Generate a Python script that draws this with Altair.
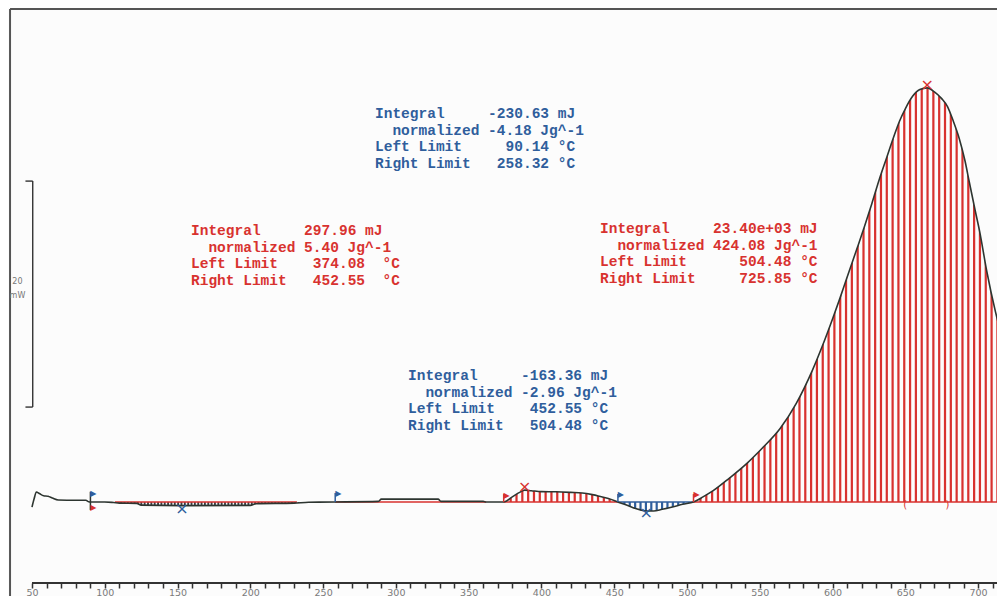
import altair as alt
import pandas as pd

# ---------------- data ----------------
temps = [50, 51.5, 53, 55, 58, 61, 64, 68, 80, 87, 89, 90.14,
         100, 106, 110, 122, 125, 153, 200, 204, 230, 240, 258.32,
         288, 290, 329, 331, 360, 362, 374.08,
         380, 385, 388.5, 393, 400, 410, 420, 428, 435, 440, 446, 452.55,
         458, 463, 468, 472, 477, 483, 490, 497, 504.48,
         511, 518, 529, 541, 552, 564, 575, 586, 593, 600, 605, 610, 617,
         622, 627, 632, 637, 642, 646, 650, 655, 660, 665, 670, 675, 679,
         683, 687, 691, 694, 698, 701, 706, 712, 718]
heat_mw = [-0.45, 0.3, 0.88, 0.75, 0.55, 0.5, 0.35, 0.18, 0.15, 0.15, 0.02, 0.0,
           0.0, -0.05, -0.1, -0.12, -0.28, -0.32, -0.3, -0.15, -0.1, -0.02, 0.0,
           0.05, 0.25, 0.25, 0.05, 0.05, 0.0, 0.0,
           0.45, 0.85, 1.05, 1.0, 0.92, 0.9, 0.85, 0.8, 0.65, 0.5, 0.3, 0.0,
           -0.25, -0.5, -0.7, -0.8, -0.8, -0.65, -0.45, -0.2, 0.0,
           0.45, 1.0, 2.1, 3.4, 4.8, 6.5, 8.7, 11.6, 13.8, 16.2, 18.0, 19.9, 22.5,
           24.4, 26.4, 28.5, 30.4, 32.3, 33.7, 34.8, 35.9, 36.5, 36.65, 36.3, 35.7, 35.0,
           33.7, 32.2, 30.2, 28.3, 25.8, 24.0, 20.4, 16.8, 13.9]

# integration regions: left / right limit (°C)
region_lo = [90.14, 374.08, 452.55, 504.48]
region_hi = [258.32, 452.55, 504.48, 725.85]

# baselines of the integrals
base_lo = [107, 258.32, 374.08, 452.55, 504.48]
base_hi = [232, 362, 452.55, 504.48, 725.85]
base_kind = ["red", "red", "red", "blue", "red"]

# limit flags
stem_t = [90.14, 258.32, 374.08, 452.55, 504.48]
stem_lo = [-0.7, 0.0, 0.0, 0.0, 0.0]
stem_hi = [0.9, 0.8, 0.7, 0.7, 0.7]
stem_kind = ["dark", "blue", "red", "blue", "red"]
flag_t = [90.14, 90.14, 258.32, 374.08, 452.55, 504.48]
flag_mw = [0.75, -0.5, 0.7, 0.55, 0.6, 0.6]
flag_kind = ["blue", "red", "blue", "red", "blue", "red"]

# peak / minimum markers
ext_t = [153, 388.5, 472, 665]
ext_mw = [-0.6, 1.3, -0.95, 36.9]
ext_kind = ["blue", "red", "blue", "red"]

# small bracket marks under the big peak
brk_t = [650, 679]
brk_txt = ["(", ")"]

# 20 mW scale bar
bar_t = 50.5
bar_lo = 8.4
bar_hi = 28.4

tick_values = list(range(50, 711, 10))
axis_span = [50, 713]

blue_1 = ["Integral     -230.63 mJ",
          "  normalized -4.18 Jg^-1",
          "Left Limit     90.14 °C",
          "Right Limit   258.32 °C"]
red_1 = ["Integral     297.96 mJ",
         "  normalized 5.40 Jg^-1",
         "Left Limit    374.08  °C",
         "Right Limit   452.55  °C"]
red_2 = ["Integral     23.40e+03 mJ",
         "  normalized 424.08 Jg^-1",
         "Left Limit      504.48 °C",
         "Right Limit     725.85 °C"]
blue_2 = ["Integral     -163.36 mJ",
          "  normalized -2.96 Jg^-1",
          "Left Limit    452.55 °C",
          "Right Limit   504.48 °C"]

# ---------------- styles ----------------
BLUE = "#2f5e9c"
RED = "#d8322f"
DARK = "#2d3530"
BG = "#fcfcfc"
colors = {"blue": BLUE, "red": RED, "dark": DARK}

W, H = 989, 575
XD = [33.51, 713.0]
YD = [-7.17, 43.72]
xs = alt.Scale(domain=XD, nice=False, zero=False)
ys = alt.Scale(domain=YD, nice=False, zero=False)
x_axis = alt.Axis(values=tick_values, title=None, grid=False, domain=False,
                  labelExpr="datum.value % 50 == 0 ? datum.label : ''",
                  format="d", tickSize=5, tickWidth=1.5, tickColor="#333",
                  labelColor="#7a7a7a", labelFont="DejaVu Sans", labelFontSize=9.5,
                  labelPadding=-1, labelOverlap=False, labelFlush=False)


def X(f="T"):
    return alt.X(f"{f}:Q", scale=xs, axis=x_axis)


def Y(f):
    return alt.Y(f"{f}:Q", scale=ys, axis=None)


curve = pd.DataFrame({"T": temps, "mW": heat_mw, "zero": 0.0})

# hatch style per region: fill colour, stripe step (°C), gap width (px), gap extent (mW)
hatch = [("#3a3f45", 2.3, 1.5, -0.6, 0.15),
         (RED, 4.0, 3.6, -0.1, 1.4),
         (BLUE, 3.7, 3.2, -1.2, 0.1),
         (RED, 4.0, 3.6, -0.1, 38.5)]

layers = []
for lo, hi, (col, step, gap, g0, g1) in zip(region_lo, region_hi, hatch):
    layers.append(
        alt.Chart(curve)
        .transform_filter((alt.datum.T >= lo) & (alt.datum.T <= hi))
        .mark_area(color=col, opacity=1, interpolate="monotone", clip=True)
        .encode(x=X(), y=Y("mW"), y2="zero:Q")
    )
for lo, hi, (col, step, gap, g0, g1) in zip(region_lo, region_hi, hatch):
    layers.append(
        alt.Chart(alt.sequence(lo + step * 0.7, hi, step, as_="T"))
        .transform_calculate(g0=str(g0), g1=str(g1))
        .mark_rule(color=BG, strokeWidth=gap, clip=True)
        .encode(x=X(), y=Y("g0"), y2="g1:Q")
    )

base_df = pd.DataFrame({"T": base_lo, "T2": base_hi, "zero": 0.0,
                        "c": [colors[k] for k in base_kind]})
layers.append(
    alt.Chart(base_df).mark_rule(strokeWidth=1.6, clip=True).encode(
        x=X(), x2="T2:Q", y=Y("zero"), color=alt.Color("c:N", scale=None))
)

layers.append(
    alt.Chart(curve).mark_line(color=DARK, strokeWidth=1.6, interpolate="monotone", clip=True)
    .encode(x=X(), y=Y("mW"))
)

# axis line from 50 °C onwards, frame lines
frame_df = pd.DataFrame({"T": [axis_span[0]], "T2": [axis_span[1]], "ybot": [YD[0]],
                         "xl": [XD[0] + 1.4], "ytop": [YD[1] - 0.09], "yfar": [YD[0] - 1.2]})
layers.append(
    alt.Chart(frame_df).mark_rule(color="#333", strokeWidth=2).encode(
        x=X(), x2="T2:Q", y=Y("ybot"))
)
layers.append(
    alt.Chart(frame_df).mark_rule(color="#555", strokeWidth=2).encode(
        x=X("xl"), y=Y("yfar"), y2="ytop:Q")
)
layers.append(
    alt.Chart(frame_df).mark_rule(color="#555", strokeWidth=2).encode(
        x=X("xl"), x2="T2:Q", y=Y("ytop"))
)

stem_df = pd.DataFrame({"T": stem_t, "lo": stem_lo, "hi": stem_hi,
                        "c": [colors[k] for k in stem_kind]})
layers.append(
    alt.Chart(stem_df).mark_rule(strokeWidth=1.5).encode(
        x=X(), y=Y("lo"), y2="hi:Q", color=alt.Color("c:N", scale=None))
)
flag_df = pd.DataFrame({"T": flag_t, "mW": flag_mw, "c": [colors[k] for k in flag_kind]})
layers.append(
    alt.Chart(flag_df).mark_text(text="▶", fontSize=8, font="DejaVu Sans", dx=3, baseline="middle")
    .encode(x=X(), y=Y("mW"), color=alt.Color("c:N", scale=None))
)
ext_df = pd.DataFrame({"T": ext_t, "mW": ext_mw, "c": [colors[k] for k in ext_kind]})
layers.append(
    alt.Chart(ext_df).mark_text(text="×", fontSize=16, font="DejaVu Sans", baseline="middle")
    .encode(x=X(), y=Y("mW"), color=alt.Color("c:N", scale=None))
)
brk_df = pd.DataFrame({"T": brk_t, "s": brk_txt, "zero": 0.0})
layers.append(
    alt.Chart(brk_df).mark_text(color=RED, fontSize=10, font="DejaVu Sans", baseline="middle", dy=3)
    .encode(x=X(), y=Y("zero"), text="s:N")
)

# scale bar
bar_df = pd.DataFrame({"T": [bar_t], "lo": [bar_lo], "hi": [bar_hi], "T0": [bar_t - 5]})
layers.append(
    alt.Chart(bar_df).mark_rule(color="#333", strokeWidth=1.4).encode(
        x=X(), y=Y("lo"), y2="hi:Q")
)
for fld in ["lo", "hi"]:
    layers.append(
        alt.Chart(bar_df).mark_rule(color="#333", strokeWidth=1.4).encode(
            x=X("T0"), x2="T:Q", y=Y(fld))
    )
lab_df = pd.DataFrame({"T": [bar_t - 10.5, bar_t - 10.5],
                       "mW": [(bar_lo + bar_hi) / 2 + 1.1, (bar_lo + bar_hi) / 2 - 0.2],
                       "s": ["20", "mW"]})
layers.append(
    alt.Chart(lab_df).mark_text(color="#777", fontSize=8, font="DejaVu Sans")
    .encode(x=X(), y=Y("mW"), text="s:N")
)

NBSP = "\u00a0"
FS = 14.5
ADV = 0.6 * FS  # monospace advance


def block(lines, color, x, y, lh=16.6):
    out = []
    for i, s in enumerate(lines):
        body = s.lstrip(" ")
        lead = len(s) - len(body)
        out.append(
            alt.Chart(pd.DataFrame({"s": [body.replace(" ", NBSP)]})).mark_text(
                color=color, font="Liberation Mono", fontWeight="bold", fontSize=FS,
                align="left", baseline="alphabetic")
            .encode(x=alt.value(x + lead * ADV), y=alt.value(y + i * lh), text="s:N")
        )
    return out


layers += block(blue_1, BLUE, 367, 110)
layers += block(red_1, RED, 183, 227)
layers += block(red_2, RED, 592, 225)
layers += block(blue_2, BLUE, 400, 372)

chart = (
    alt.layer(*layers)
    .properties(width=W, height=H, autosize=alt.AutoSizeParams(type="none"),
                padding={"left": 0, "top": 0, "right": 0, "bottom": 13},
                background=BG)
    .configure_view(stroke=None)
)

chart.save("out.html", embed_options={"renderer": "svg", "actions": False})
